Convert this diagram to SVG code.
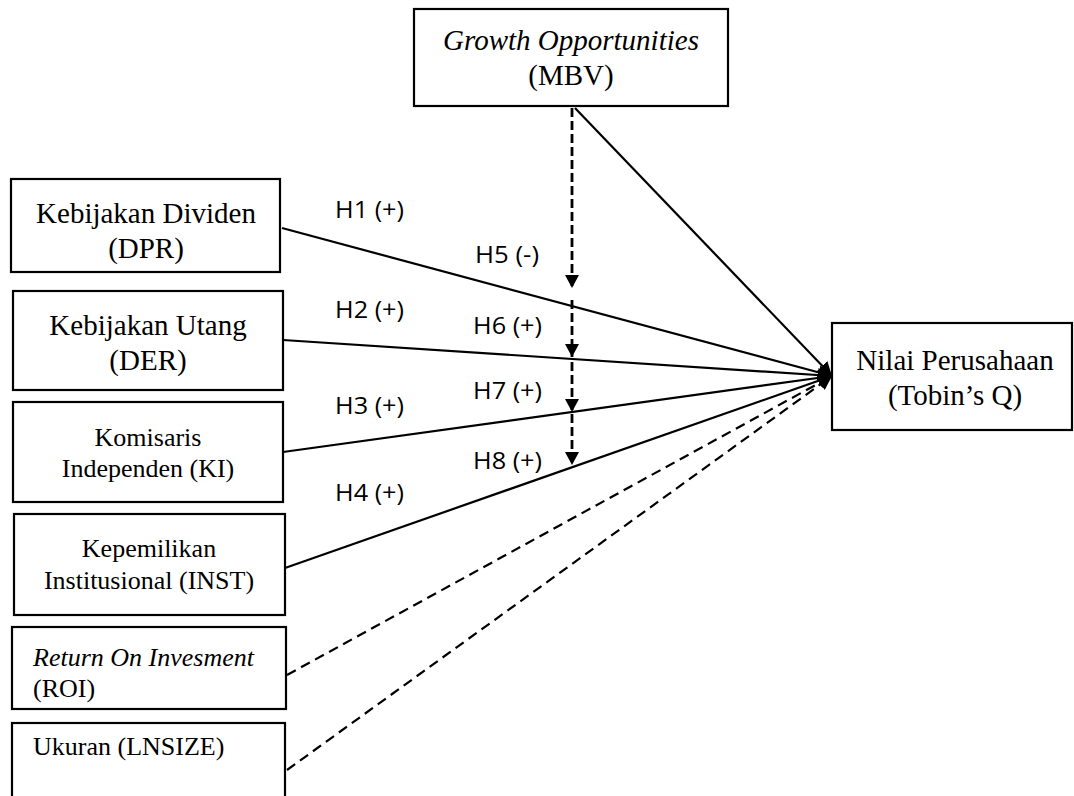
<svg xmlns="http://www.w3.org/2000/svg" width="1074" height="796" viewBox="0 0 1074 796">
<style>
.box{fill:#fff;stroke:#000;stroke-width:2.2}
.t{font-family:"Liberation Serif","Times New Roman",serif;font-size:29px;fill:#000}
.s{font-family:"Liberation Serif","Times New Roman",serif;font-size:26px;fill:#000}
.i{font-style:italic}
.h{font-family:"Open Sans","Liberation Sans",sans-serif;font-size:24px;fill:#000}
.ln{fill:none;stroke:#000;stroke-width:2.2}
.ds{fill:none;stroke:#000;stroke-width:2.2;stroke-dasharray:10 6}
.vd{fill:none;stroke:#000;stroke-width:2.8;stroke-dasharray:9 4}
</style>
<defs>
<marker id="ah" viewBox="0 0 14 14" refX="14" refY="7" markerWidth="14" markerHeight="14" markerUnits="userSpaceOnUse" orient="auto">
<path d="M0,0 L14,7 L0,14 z" fill="#000"/>
</marker>
<marker id="va" viewBox="0 0 13 14" refX="13" refY="7" markerWidth="13" markerHeight="14" markerUnits="userSpaceOnUse" orient="auto">
<path d="M0,0 L13,7 L0,14 z" fill="#000"/>
</marker>
</defs>
<g id="connectors">
<path class="ln" d="M575,108 L832,376" marker-end="url(#ah)"/>
<path class="ln" d="M282,228 L832,376" marker-end="url(#ah)"/>
<path class="ln" d="M283,340 L832,376" marker-end="url(#ah)"/>
<path class="ln" d="M283,452 L832,376" marker-end="url(#ah)"/>
<path class="ln" d="M285,568 L832,376" marker-end="url(#ah)"/>
<path class="ds" d="M287,675 L832,376" marker-end="url(#ah)"/>
<path class="ds" d="M287,770 L832,376" marker-end="url(#ah)"/>
<path class="vd" d="M572,108 L572,288" marker-end="url(#va)"/>
<path class="vd" d="M572,300 L572,357" marker-end="url(#va)"/>
<path class="vd" d="M572,362 L572,412" marker-end="url(#va)"/>
<path class="vd" d="M572,414 L572,465" marker-end="url(#va)"/>
</g>
<g id="labels">
<text class="h" x="335" y="218" textLength="69" lengthAdjust="spacingAndGlyphs">H1 (+)</text>
<text class="h" x="475" y="263" textLength="64" lengthAdjust="spacingAndGlyphs">H5 (-)</text>
<text class="h" x="335" y="318" textLength="69" lengthAdjust="spacingAndGlyphs">H2 (+)</text>
<text class="h" x="473" y="334" textLength="69" lengthAdjust="spacingAndGlyphs">H6 (+)</text>
<text class="h" x="473" y="399" textLength="69" lengthAdjust="spacingAndGlyphs">H7 (+)</text>
<text class="h" x="335" y="414" textLength="69" lengthAdjust="spacingAndGlyphs">H3 (+)</text>
<text class="h" x="473" y="469" textLength="69" lengthAdjust="spacingAndGlyphs">H8 (+)</text>
<text class="h" x="335" y="501" textLength="69" lengthAdjust="spacingAndGlyphs">H4 (+)</text>
</g>
<g id="node-mbv">
<rect class="box" x="414" y="9" width="314" height="97"/>
<text class="t i" x="571" y="50" text-anchor="middle">Growth Opportunities</text>
<text class="t" x="571" y="85" text-anchor="middle">(MBV)</text>
</g>
<g id="node-dpr">
<rect class="box" x="11" y="179" width="269" height="93"/>
<text class="t" x="146" y="223" text-anchor="middle">Kebijakan Dividen</text>
<text class="t" x="146" y="258" text-anchor="middle">(DPR)</text>
</g>
<g id="node-der">
<rect class="box" x="13" y="291" width="270" height="99"/>
<text class="t" x="148" y="335" text-anchor="middle">Kebijakan Utang</text>
<text class="t" x="148" y="370" text-anchor="middle">(DER)</text>
</g>
<g id="node-ki">
<rect class="box" x="13" y="402" width="270" height="100"/>
<text class="s" x="148" y="446" text-anchor="middle">Komisaris</text>
<text class="s" x="148" y="477" text-anchor="middle">Independen (KI)</text>
</g>
<g id="node-inst">
<rect class="box" x="14" y="514" width="271" height="101"/>
<text class="s" x="149" y="557" text-anchor="middle">Kepemilikan</text>
<text class="s" x="149" y="589" text-anchor="middle">Institusional (INST)</text>
</g>
<g id="node-roi">
<rect class="box" x="12" y="627" width="274" height="82"/>
<text class="s i" x="33" y="666">Return On Invesment</text>
<text class="s" x="33" y="697">(ROI)</text>
</g>
<g id="node-lnsize">
<rect class="box" x="12" y="723" width="273" height="90"/>
<text class="s" x="33" y="755">Ukuran (LNSIZE)</text>
</g>
<g id="node-tobin">
<rect class="box" x="832" y="323" width="240" height="107"/>
<text class="t" x="955" y="370" text-anchor="middle">Nilai Perusahaan</text>
<text class="t" x="955" y="405" text-anchor="middle">(Tobin’s Q)</text>
</g>
</svg>
